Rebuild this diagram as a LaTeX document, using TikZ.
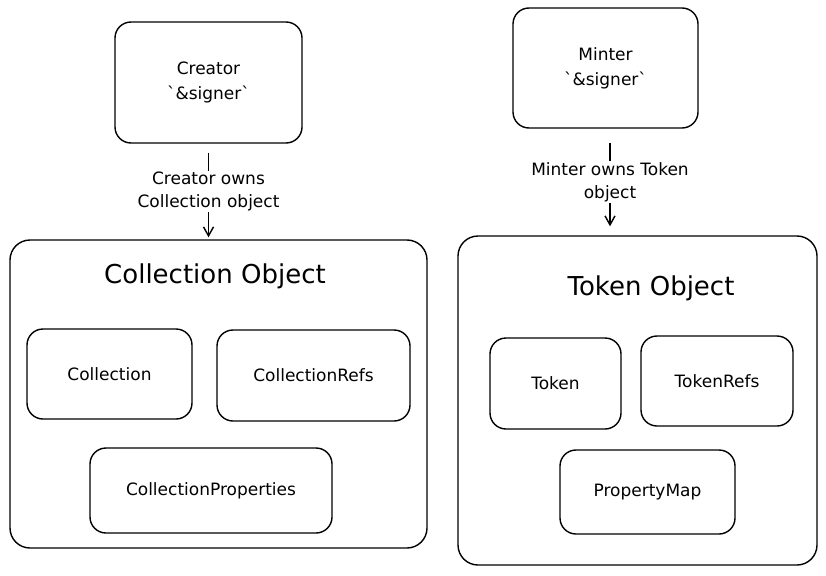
\documentclass[tikz,border=0pt]{standalone}
\usepackage{fontspec}
\setmainfont{DejaVu Sans}
\usepackage{tikz}
\usetikzlibrary{arrows.meta}

\begin{document}
\begin{tikzpicture}[
  x=1pt,y=-1pt,
  box/.style={rectangle,draw,line width=1.4pt,rounded corners=16pt,align=center,font=\fontsize{17}{25}\selectfont},
  outer/.style={rectangle,draw,line width=1.4pt,rounded corners=20pt},
  title/.style={font=\fontsize{26}{30}\selectfont},
  lbl/.style={fill=white,align=center,inner sep=1pt,font=\fontsize{17}{23}\selectfont},
  arr/.style={-{Straight Barb[length=9pt,width=10pt]},line width=1.4pt}
]
\useasboundingbox (0,0) rectangle (826,575);

% signers
\node[box,minimum width=187pt,minimum height=121pt] (creator) at (208.5,82.5) {Creator\\\textasciigrave\&signer\textasciigrave};
\node[box,minimum width=185pt,minimum height=120pt] (minter) at (605.5,68) {Minter\\\textasciigrave\&signer\textasciigrave};

% collection object
\node[outer,minimum width=417pt,minimum height=308pt] (collobj) at (218.5,394) {};
\node[title] (colltitle) at (215,276) {Collection Object};
\node[box,minimum width=165pt,minimum height=90pt] (coll) at (109.5,374) {Collection};
\node[box,minimum width=193pt,minimum height=91pt] (collrefs) at (313.5,375.5) {CollectionRefs};
\node[box,minimum width=242pt,minimum height=85pt] (collprops) at (211,490.5) {CollectionProperties};

% token object
\node[outer,minimum width=359pt,minimum height=329pt] (tokobj) at (637.5,400.5) {};
\node[title] (toktitle) at (651,288) {Token Object};
\node[box,minimum width=131pt,minimum height=91pt] (token) at (555.5,383.5) {Token};
\node[box,minimum width=152pt,minimum height=90pt] (tokrefs) at (717,381) {TokenRefs};
\node[box,minimum width=175pt,minimum height=84pt] (propmap) at (647.5,492) {PropertyMap};

% ownership
\draw[arr,shorten <=9pt,shorten >=2pt] (creator.south) -- node[lbl]{Creator owns\\Collection object} (creator.south |- collobj.north);
\draw[arr,shorten <=14pt,shorten >=9pt] ([xshift=4.5pt]minter.south) -- node[lbl]{Minter owns Token\\object} ([xshift=4.5pt]minter.south |- tokobj.north);
\end{tikzpicture}
\end{document}
